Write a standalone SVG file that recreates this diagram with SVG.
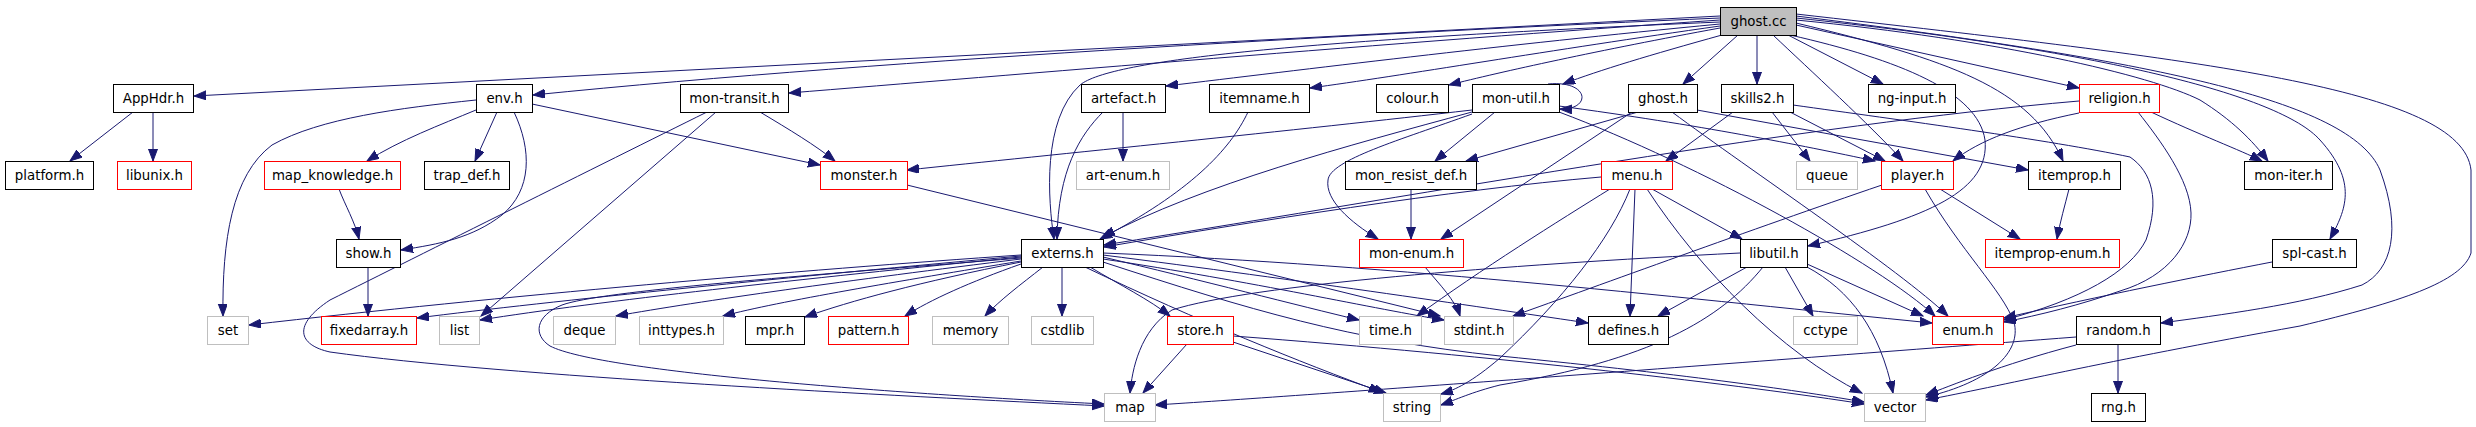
<svg xmlns="http://www.w3.org/2000/svg" width="2476" height="427" viewBox="0 0 2476 427">
<style>
rect{fill:#fff;stroke-width:1}
.b{stroke:#000}
.r{stroke:#ff0000}
.g{stroke:#bfbfbf}
.root{fill:#bfbfbf;stroke:#000}
text{font-family:"DejaVu Sans","Liberation Sans",sans-serif;font-size:13.33px;fill:#000;text-anchor:middle}
#edges path{fill:none;stroke:#191970;stroke-width:1;marker-end:url(#ah)}
</style>
<defs>
<marker id="ah" markerUnits="userSpaceOnUse" markerWidth="13" markerHeight="10" refX="12" refY="4.5" orient="auto">
<path d="M0,0 L12,4.5 L0,9 z" fill="#191970" stroke="#191970"/>
</marker>
</defs>
<rect x="0" y="0" width="2476" height="427" style="fill:#fff;stroke:none"/>
<g id="edges">
<!-- ghost.cc -->
<path d="M1720,16 L194,96"/>
<path d="M1720,18 C1400,32 900,58 533,95"/>
<path d="M1720,20 C1400,42 1000,76 789,93"/>
<path d="M1720,22 C1300,40 1110,60 1080,85 C1042,120 1048,200 1054,239"/>
<path d="M1720,24 C1500,45 1300,70 1166,86"/>
<path d="M1720,26 C1550,50 1400,76 1310,88"/>
<path d="M1720,28 C1600,50 1500,72 1449,85"/>
<path d="M1722,35 C1650,55 1600,70 1563,84"/>
<path d="M1738,35 L1683,84"/>
<path d="M1757,35 L1757,84"/>
<path d="M1788,35 L1883,84"/>
<path d="M1773,35 C1810,70 1870,125 1903,161"/>
<path d="M1790,35 C1900,60 1978,92 1985,140 C1990,190 1930,218 1808,246"/>
<path d="M1796,23 C1950,60 2030,88 2063,161"/>
<path d="M1796,25 L2079,88"/>
<path d="M1796,20 C2000,40 2150,75 2200,100 C2232,120 2252,140 2268,161"/>
<path d="M1796,18 C2100,50 2280,95 2320,140 C2358,182 2346,210 2330,239"/>
<path d="M1796,16 C2150,60 2350,100 2380,170 C2402,230 2392,270 2362,285 C2300,305 2220,315 2161,323"/>
<path d="M1796,14 C2200,60 2462,88 2471,170 L2471,253 C2462,282 2400,302 2300,326 C2100,362 2000,386 1926,400"/>
<!-- AppHdr -->
<path d="M133,112 L70,161"/>
<path d="M153,112 L153,161"/>
<!-- env.h -->
<path d="M476,110 C440,125 400,140 367,161"/>
<path d="M476,100 C400,108 320,118 272,145 C232,175 222,240 223,316"/>
<path d="M514,112 C532,150 532,190 502,215 C472,238 440,244 401,250"/>
<path d="M497,112 L475,161"/>
<path d="M532,104 L820,165"/>
<!-- mon-transit -->
<path d="M760,112 C790,130 815,145 835,161"/>
<path d="M716,112 L481,316"/>
<path d="M707,112 C600,165 420,255 330,300 C292,325 298,345 330,352 C500,376 900,396 1104,406"/>
<!-- map_knowledge, show -->
<path d="M339,189 C345,205 355,222 359,239"/>
<path d="M368,267 L368,316"/>
<!-- artefact, itemname -->
<path d="M1123,112 L1123,161"/>
<path d="M1103,112 C1080,135 1058,170 1057,239"/>
<path d="M1248,112 C1230,150 1190,192 1100,239"/>
<!-- mon-util -->
<path d="M1548,84 C1590,80 1592,110 1560,109"/>
<path d="M1472,110 C1300,130 1050,155 907,170"/>
<path d="M1472,112 C1350,145 1200,185 1103,237"/>
<path d="M1472,114 C1400,140 1330,160 1328,180 C1325,200 1350,222 1378,239"/>
<path d="M1495,112 L1435,161"/>
<path d="M1559,106 C1700,125 1800,145 1875,161"/>
<path d="M1559,112 C1700,165 1880,265 1935,316"/>
<!-- ghost.h -->
<path d="M1638,112 L1466,161"/>
<path d="M1632,112 L1441,239"/>
<path d="M1697,110 L2028,170"/>
<path d="M1672,112 C1750,170 1900,270 1948,316"/>
<!-- skills2.h -->
<path d="M1733,112 L1666,161"/>
<path d="M1772,112 L1810,161"/>
<path d="M1790,112 L1885,161"/>
<path d="M1793,105 C1900,120 2050,140 2130,157 C2152,172 2160,200 2146,240 C2130,272 2080,300 2004,320"/>
<!-- religion.h -->
<path d="M2079,113 C2020,125 1980,140 1953,161"/>
<path d="M2079,101 C1800,125 1450,190 1104,245"/>
<path d="M2138,112 C2160,140 2190,180 2191,213 C2192,242 2170,276 2120,291 C2080,305 2040,315 2004,322"/>
<path d="M2151,112 C2200,135 2240,150 2262,161"/>
<!-- menu.h -->
<path d="M1601,177 C1450,190 1250,222 1104,247"/>
<path d="M1652,189 L1742,239"/>
<path d="M1635,189 L1630,316"/>
<path d="M1610,189 C1560,220 1480,270 1417,316"/>
<path d="M1630,189 C1610,240 1562,300 1500,358 C1472,382 1455,390 1441,394"/>
<path d="M1647,189 C1700,270 1780,352 1862,393"/>
<!-- player.h -->
<path d="M1882,185 C1750,230 1600,285 1513,316"/>
<path d="M1940,189 L2020,239"/>
<path d="M1925,189 C1960,250 2002,290 2014,322 C2022,352 1990,382 1926,397"/>
<!-- itemprop -->
<path d="M2069,189 C2065,205 2060,222 2057,239"/>
<!-- externs.h -->
<path d="M1021,255 C800,270 500,296 249,325"/>
<path d="M1021,256 C800,276 550,301 417,318"/>
<path d="M1021,257 C800,279 600,301 480,320"/>
<path d="M1021,259 C850,280 700,301 616,316"/>
<path d="M1021,261 C900,281 780,301 723,316"/>
<path d="M1021,262 C920,282 850,301 805,317"/>
<path d="M1021,264 C970,282 930,300 905,316"/>
<path d="M1043,267 C1020,285 1000,300 985,316"/>
<path d="M1062,267 L1062,316"/>
<path d="M1090,267 C1120,285 1150,300 1170,316"/>
<path d="M1021,258 C800,276 600,291 562,305 C535,316 533,335 550,346 C600,372 900,394 1104,404"/>
<path d="M1103,257 C1200,280 1300,306 1359,320"/>
<path d="M1103,259 C1250,281 1380,310 1444,320"/>
<path d="M1103,255 C1300,280 1500,310 1588,323"/>
<path d="M1103,253 C1400,265 1700,300 1932,323"/>
<path d="M1085,267 C1200,322 1300,362 1381,392"/>
<path d="M1103,262 C1250,310 1350,340 1500,356 C1700,376 1800,391 1864,402"/>
<!-- monster, mon_resist_def, mon-enum -->
<path d="M907,185 L1440,316"/>
<path d="M1411,189 L1411,239"/>
<path d="M1425,267 C1440,285 1455,300 1460,316"/>
<!-- libutil.h -->
<path d="M1740,253 C1500,265 1250,285 1172,310 C1140,330 1132,370 1130,393"/>
<path d="M1763,267 C1720,320 1650,360 1500,385 C1472,392 1455,400 1441,405"/>
<path d="M1747,267 L1658,316"/>
<path d="M1785,267 L1813,316"/>
<path d="M1807,264 L1923,316"/>
<path d="M1807,267 C1850,290 1880,330 1893,393"/>
<!-- store.h -->
<path d="M1187,344 L1143,393"/>
<path d="M1233,342 L1386,393"/>
<path d="M1233,336 C1500,356 1750,386 1864,404"/>
<!-- random.h -->
<path d="M2118,344 L2118,393"/>
<path d="M2076,337 C1700,366 1300,396 1155,405"/>
<path d="M2076,345 C2000,365 1950,386 1926,395"/>
<!-- spl-cast.h -->
<path d="M2272,262 C2200,276 2100,296 2004,318"/>
</g>
<g id="n-ghost_cc"><rect class="root" x="1720.5" y="7.5" width="76" height="28"/><text x="1758.5" y="26">ghost.cc</text></g>
<g id="n-AppHdr_h"><rect class="b" x="113.5" y="84.5" width="80" height="28"/><text x="153.5" y="103">AppHdr.h</text></g>
<g id="n-env_h"><rect class="b" x="476.5" y="84.5" width="56" height="28"/><text x="504.5" y="103">env.h</text></g>
<g id="n-mon-transit_h"><rect class="b" x="680.5" y="84.5" width="108" height="28"/><text x="734.5" y="103">mon-transit.h</text></g>
<g id="n-artefact_h"><rect class="b" x="1081.5" y="84.5" width="84" height="28"/><text x="1123.5" y="103">artefact.h</text></g>
<g id="n-itemname_h"><rect class="b" x="1209.5" y="84.5" width="100" height="28"/><text x="1259.5" y="103">itemname.h</text></g>
<g id="n-colour_h"><rect class="b" x="1376.5" y="84.5" width="72" height="28"/><text x="1412.5" y="103">colour.h</text></g>
<g id="n-mon-util_h"><rect class="b" x="1472.5" y="84.5" width="87" height="28"/><text x="1516" y="103">mon-util.h</text></g>
<g id="n-ghost_h"><rect class="b" x="1628.5" y="84.5" width="69" height="28"/><text x="1663" y="103">ghost.h</text></g>
<g id="n-skills2_h"><rect class="b" x="1721.5" y="84.5" width="72" height="28"/><text x="1757.5" y="103">skills2.h</text></g>
<g id="n-ng-input_h"><rect class="b" x="1868.5" y="84.5" width="87" height="28"/><text x="1912" y="103">ng-input.h</text></g>
<g id="n-religion_h"><rect class="r" x="2079.5" y="84.5" width="80" height="28"/><text x="2119.5" y="103">religion.h</text></g>
<g id="n-platform_h"><rect class="b" x="5.5" y="161.5" width="88" height="28"/><text x="49.5" y="180">platform.h</text></g>
<g id="n-libunix_h"><rect class="r" x="117.5" y="161.5" width="74" height="28"/><text x="154.5" y="180">libunix.h</text></g>
<g id="n-map_knowledge_h"><rect class="r" x="264.5" y="161.5" width="136" height="28"/><text x="332.5" y="180">map_knowledge.h</text></g>
<g id="n-trap_def_h"><rect class="b" x="424.5" y="161.5" width="85" height="28"/><text x="467" y="180">trap_def.h</text></g>
<g id="n-monster_h"><rect class="r" x="820.5" y="161.5" width="87" height="28"/><text x="864" y="180">monster.h</text></g>
<g id="n-art-enum_h"><rect class="g" x="1076.5" y="161.5" width="93" height="28"/><text x="1123" y="180">art-enum.h</text></g>
<g id="n-mon_resist_def_h"><rect class="b" x="1345.5" y="161.5" width="131" height="28"/><text x="1411" y="180">mon_resist_def.h</text></g>
<g id="n-menu_h"><rect class="r" x="1601.5" y="161.5" width="71" height="28"/><text x="1637" y="180">menu.h</text></g>
<g id="n-queue"><rect class="g" x="1796.5" y="161.5" width="61" height="28"/><text x="1827" y="180">queue</text></g>
<g id="n-player_h"><rect class="r" x="1881.5" y="161.5" width="72" height="28"/><text x="1917.5" y="180">player.h</text></g>
<g id="n-itemprop_h"><rect class="b" x="2028.5" y="161.5" width="92" height="28"/><text x="2074.5" y="180">itemprop.h</text></g>
<g id="n-mon-iter_h"><rect class="b" x="2244.5" y="161.5" width="88" height="28"/><text x="2288.5" y="180">mon-iter.h</text></g>
<g id="n-show_h"><rect class="b" x="336.5" y="239.5" width="64" height="28"/><text x="368.5" y="258">show.h</text></g>
<g id="n-externs_h"><rect class="b" x="1021.5" y="239.5" width="82" height="28"/><text x="1062.5" y="258">externs.h</text></g>
<g id="n-mon-enum_h"><rect class="r" x="1359.5" y="239.5" width="104" height="28"/><text x="1411.5" y="258">mon-enum.h</text></g>
<g id="n-libutil_h"><rect class="b" x="1740.5" y="239.5" width="67" height="28"/><text x="1774" y="258">libutil.h</text></g>
<g id="n-itemprop-enum_h"><rect class="r" x="1985.5" y="239.5" width="134" height="28"/><text x="2052.5" y="258">itemprop-enum.h</text></g>
<g id="n-spl-cast_h"><rect class="b" x="2272.5" y="239.5" width="84" height="28"/><text x="2314.5" y="258">spl-cast.h</text></g>
<g id="n-set"><rect class="g" x="207.5" y="316.5" width="41" height="28"/><text x="228" y="335">set</text></g>
<g id="n-fixedarray_h"><rect class="r" x="321.5" y="316.5" width="95" height="28"/><text x="369" y="335">fixedarray.h</text></g>
<g id="n-list"><rect class="g" x="439.5" y="316.5" width="40" height="28"/><text x="459.5" y="335">list</text></g>
<g id="n-deque"><rect class="g" x="553.5" y="316.5" width="62" height="28"/><text x="584.5" y="335">deque</text></g>
<g id="n-inttypes_h"><rect class="g" x="639.5" y="316.5" width="84" height="28"/><text x="681.5" y="335">inttypes.h</text></g>
<g id="n-mpr_h"><rect class="b" x="745.5" y="316.5" width="59" height="28"/><text x="775" y="335">mpr.h</text></g>
<g id="n-pattern_h"><rect class="r" x="828.5" y="316.5" width="80" height="28"/><text x="868.5" y="335">pattern.h</text></g>
<g id="n-memory"><rect class="g" x="932.5" y="316.5" width="76" height="28"/><text x="970.5" y="335">memory</text></g>
<g id="n-cstdlib"><rect class="g" x="1031.5" y="316.5" width="62" height="28"/><text x="1062.5" y="335">cstdlib</text></g>
<g id="n-store_h"><rect class="r" x="1167.5" y="316.5" width="66" height="28"/><text x="1200.5" y="335">store.h</text></g>
<g id="n-time_h"><rect class="g" x="1359.5" y="316.5" width="62" height="28"/><text x="1390.5" y="335">time.h</text></g>
<g id="n-stdint_h"><rect class="g" x="1444.5" y="316.5" width="69" height="28"/><text x="1479" y="335">stdint.h</text></g>
<g id="n-defines_h"><rect class="b" x="1588.5" y="316.5" width="80" height="28"/><text x="1628.5" y="335">defines.h</text></g>
<g id="n-cctype"><rect class="g" x="1793.5" y="316.5" width="64" height="28"/><text x="1825.5" y="335">cctype</text></g>
<g id="n-enum_h"><rect class="r" x="1932.5" y="316.5" width="71" height="28"/><text x="1968" y="335">enum.h</text></g>
<g id="n-random_h"><rect class="b" x="2076.5" y="316.5" width="84" height="28"/><text x="2118.5" y="335">random.h</text></g>
<g id="n-map"><rect class="g" x="1104.5" y="393.5" width="51" height="28"/><text x="1130" y="412">map</text></g>
<g id="n-string"><rect class="g" x="1383.5" y="393.5" width="57" height="28"/><text x="1412" y="412">string</text></g>
<g id="n-vector"><rect class="g" x="1864.5" y="393.5" width="61" height="28"/><text x="1895" y="412">vector</text></g>
<g id="n-rng_h"><rect class="b" x="2091.5" y="393.5" width="54" height="28"/><text x="2118.5" y="412">rng.h</text></g>
</svg>
